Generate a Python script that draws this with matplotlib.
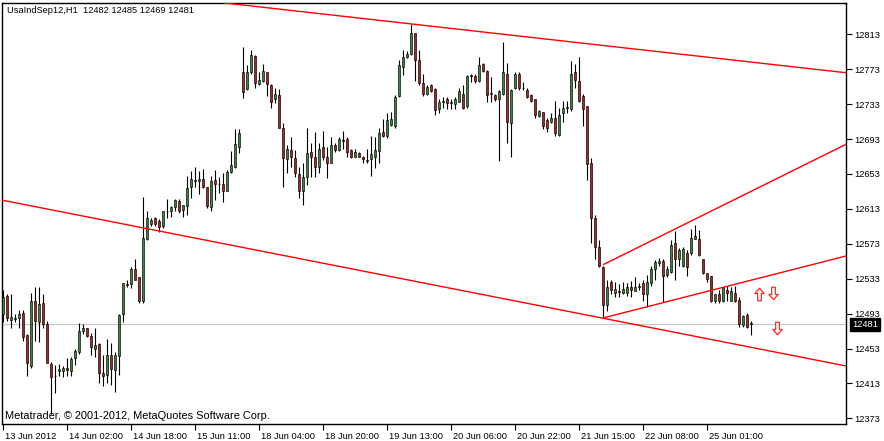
import matplotlib
matplotlib.use("Agg")
import matplotlib.pyplot as plt
from matplotlib.path import Path
import matplotlib.transforms as mtrans

# ---------------- data ----------------
opens = [12493,12513,12486,12487,12488,12494,12468,12433,12508,12483,
         12505,12481,12435,12422,12427,12427,12431,12427,12442,12449,
         12473,12477,12467,12453,12458,12425,12423,12445,12428,12444,
         12492,12527,12527,12544,12535,12507,12579,12596,12602,12599,
         12593,12610,12610,12615,12622,12612,12616,12638,12646,12645,
         12647,12638,12615,12646,12642,12642,12634,12655,12661,12684,
         12770,12750,12770,12788,12756,12759,12770,12755,12739,12744,
         12706,12670,12681,12671,12653,12634,12650,12678,12672,12661,
         12684,12672,12666,12686,12680,12692,12693,12680,12673,12677,
         12673,12669,12670,12673,12679,12701,12697,12709,12708,12742,
         12776,12787,12790,12815,12784,12757,12745,12755,12750,12727,
         12735,12739,12734,12733,12736,12745,12731,12766,12765,12760,
         12779,12771,12745,12744,12739,12745,12768,12711,12751,12767,
         12752,12749,12743,12739,12719,12724,12715,12712,12717,12698,
         12723,12729,12728,12770,12760,12742,12731,12666,12603,12569,
         12546,12503,12529,12517,12519,12517,12517,12523,12519,12525,
         12528,12516,12528,12544,12551,12553,12537,12541,12574,12556,
         12547,12563,12562,12579,12579,12556,12540,12536,12507,12516,
         12508,12520,12508,12517,12509,12480,12491,12482]
highs = [12520,12515,12515,12493,12497,12497,12470,12517,12523,12524,
         12516,12484,12438,12434,12435,12433,12442,12443,12453,12482,
         12481,12477,12471,12476,12459,12445,12464,12459,12449,12493,
         12528,12531,12546,12556,12535,12627,12610,12603,12604,12601,
         12611,12624,12616,12624,12624,12617,12651,12656,12661,12656,
         12659,12638,12651,12657,12649,12654,12658,12679,12704,12704,
         12798,12778,12795,12789,12770,12779,12770,12756,12752,12750,
         12711,12686,12695,12680,12661,12666,12706,12688,12701,12689,
         12702,12684,12695,12688,12695,12702,12695,12682,12682,12678,
         12674,12682,12696,12695,12706,12716,12723,12724,12743,12784,
         12795,12794,12825,12815,12795,12768,12755,12756,12751,12739,
         12741,12741,12739,12741,12751,12755,12766,12767,12767,12787,
         12780,12772,12764,12745,12749,12804,12780,12750,12770,12770,
         12758,12752,12745,12739,12726,12724,12717,12723,12737,12729,
         12737,12737,12782,12779,12787,12745,12731,12671,12606,12577,
         12547,12531,12532,12529,12527,12529,12528,12530,12535,12528,
         12531,12537,12548,12554,12557,12556,12548,12577,12588,12568,
         12569,12566,12590,12594,12589,12556,12540,12536,12516,12520,
         12523,12525,12524,12525,12512,12491,12494,12485]
lows = [12483,12485,12477,12483,12476,12462,12422,12431,12462,12461,
        12477,12436,12378,12402,12421,12420,12422,12421,12434,12447,
        12470,12466,12446,12443,12414,12410,12413,12411,12403,12423,
        12483,12524,12522,12531,12505,12505,12577,12593,12593,12587,
        12591,12603,12604,12611,12608,12604,12606,12626,12638,12630,
        12637,12614,12610,12623,12631,12621,12633,12654,12660,12677,
        12740,12749,12768,12751,12755,12758,12742,12729,12734,12706,
        12638,12654,12661,12650,12626,12617,12640,12649,12649,12654,
        12669,12648,12665,12678,12679,12682,12673,12671,12672,12672,
        12665,12666,12651,12660,12666,12695,12694,12708,12706,12741,
        12766,12786,12789,12759,12755,12742,12744,12747,12720,12723,
        12729,12728,12728,12728,12735,12728,12729,12758,12757,12758,
        12770,12735,12735,12737,12668,12743,12688,12673,12750,12749,
        12749,12740,12735,12717,12718,12705,12701,12711,12697,12696,
        12712,12723,12725,12751,12736,12708,12646,12574,12556,12546,
        12489,12496,12515,12512,12512,12516,12513,12512,12519,12520,
        12508,12500,12525,12532,12548,12506,12535,12540,12532,12548,
        12546,12536,12560,12579,12559,12538,12529,12506,12505,12505,
        12506,12508,12507,12506,12478,12478,12476,12469]
closes = [12512,12488,12489,12488,12493,12466,12436,12508,12484,12504,
          12481,12436,12420,12421,12429,12431,12428,12441,12450,12473,
          12476,12467,12455,12457,12425,12421,12445,12430,12445,12491,
          12528,12526,12544,12532,12508,12580,12603,12600,12596,12592,
          12610,12611,12615,12623,12611,12617,12637,12647,12645,12647,
          12638,12616,12645,12641,12641,12633,12655,12663,12687,12700,
          12747,12770,12789,12757,12761,12771,12756,12736,12745,12706,
          12671,12682,12672,12654,12633,12650,12677,12672,12661,12682,
          12672,12666,12686,12680,12693,12691,12678,12673,12678,12673,
          12670,12668,12676,12681,12700,12696,12715,12716,12741,12778,
          12787,12790,12814,12784,12757,12745,12753,12748,12726,12735,
          12737,12734,12736,12739,12748,12729,12765,12765,12759,12778,
          12771,12744,12746,12739,12748,12770,12712,12749,12767,12752,
          12751,12741,12737,12721,12725,12708,12706,12717,12700,12721,
          12729,12730,12768,12761,12737,12728,12664,12603,12569,12547,
          12503,12523,12520,12521,12518,12521,12523,12520,12524,12523,
          12516,12529,12544,12552,12553,12536,12544,12572,12556,12566,
          12567,12546,12580,12582,12560,12540,12533,12507,12515,12507,
          12523,12517,12519,12508,12481,12490,12478,12481]

tick_positions = [0, 16, 32, 48, 64, 80, 96, 112, 128, 144, 160, 176]
tick_labels = ["13 Jun 2012", "14 Jun 02:00", "14 Jun 18:00", "15 Jun 11:00",
               "18 Jun 04:00", "18 Jun 20:00", "19 Jun 13:00", "20 Jun 06:00",
               "20 Jun 22:00", "21 Jun 15:00", "22 Jun 08:00", "25 Jun 01:00"]
price_ticks = [12373, 12413, 12453, 12493, 12533, 12573, 12613, 12653,
               12693, 12733, 12773, 12813]

# trend lines: (bar0, price0, bar1, price1)
trend_lines = [
    (55.25, 12849, 210.75, 12769),
    (-0.25, 12623, 210.75, 12433),
    (150.0, 12549, 210.75, 12687),
    (150.0, 12488, 210.75, 12559),
]
arrow_bars = [189.0, 192.5, 193.5]
arrow_prices = [12516, 12517, 12477]
arrow_dirs = ["up", "down", "down"]
last_price = 12481
title = "UsaIndSep12,H1  12482 12485 12469 12481"
copyright_txt = "Metatrader, \u00a9 2001-2012, MetaQuotes Software Corp."

# ---------------- drawing ----------------
FONT = "Liberation Sans"
FS = 6.7
W, H = 884, 441
fig = plt.figure(figsize=(W / 100, H / 100), dpi=100)
ax = fig.add_axes([2 / W, 17 / H, 844 / W, 421 / H])
ax.set_xlim(-0.25, 210.75)
ax.set_ylim(12366.5, 12848.9)

n = len(opens)
xs = list(range(n))
green = "#1f9a1f"
red = "#ff0000"

ax.vlines(xs, lows, highs, color="black", linewidth=0.8, zorder=2)
bottoms = [min(o, c) for o, c in zip(opens, closes)]
heights = [abs(c - o) for o, c in zip(opens, closes)]
cols = [green if c > o else red for o, c in zip(opens, closes)]
ax.bar(xs, heights, bottom=bottoms, width=0.72, color=cols,
       edgecolor="black", linewidth=0.45, zorder=3)

ax.axhline(last_price, color="#c8c8c8", linewidth=0.9, zorder=1)

for b0, p0, b1, p1 in trend_lines:
    ax.plot([b0, b1], [p0, p1], color="red", linewidth=1.0, zorder=4,
            solid_capstyle="butt")

up_path = Path([(0, 1), (0.75, 0.15), (0.3, 0.15), (0.3, -1), (-0.3, -1),
                (-0.3, 0.15), (-0.75, 0.15), (0, 1)], closed=True)
down_path = Path([(x, -y) for x, y in up_path.vertices], closed=True)
for b, p, d in zip(arrow_bars, arrow_prices, arrow_dirs):
    ax.plot([b], [p], marker=up_path if d == "up" else down_path,
            markersize=9, markerfacecolor="#fff4f0", markeredgecolor="#ff2a2a",
            markeredgewidth=0.9, linestyle="none", zorder=5)

# axes styling
for s in ax.spines.values():
    s.set_color("black")
    s.set_linewidth(1.0)
ax.yaxis.tick_right()
ax.set_yticks(price_ticks)
ax.set_yticklabels([str(v) for v in price_ticks], fontfamily=FONT)
ax.tick_params(axis="y", direction="out", length=4, width=0.8, pad=2,
               labelsize=FS, colors="black")
ax.set_xticks(tick_positions)
ax.set_xticklabels(tick_labels, fontfamily=FONT)
ax.tick_params(axis="x", direction="out", length=4, width=0.8, pad=1.5,
               labelsize=FS, colors="black")
offset = mtrans.ScaledTranslation(1.5 / 72, 0, fig.dpi_scale_trans)
for lbl in ax.get_xticklabels():
    lbl.set_horizontalalignment("left")
    lbl.set_transform(lbl.get_transform() + offset)

# last price box
trans = mtrans.blended_transform_factory(ax.transAxes, ax.transData)
ax.text(1.0 + 6 / 844, last_price, str(last_price), transform=trans,
        ha="left", va="center", color="white", fontsize=FS, fontfamily=FONT,
        bbox=dict(boxstyle="square,pad=0.22", fc="black", ec="black"),
        zorder=10, clip_on=False)

fig.text(7 / W, 1 - 10.5 / H, title, ha="left", va="center", fontsize=FS,
         fontfamily=FONT, color="black")
fig.text(5 / W, 1 - 416 / H, copyright_txt, ha="left", va="center",
         fontsize=7.9, fontfamily=FONT, color="black")

fig.savefig("out.png", dpi=100)
